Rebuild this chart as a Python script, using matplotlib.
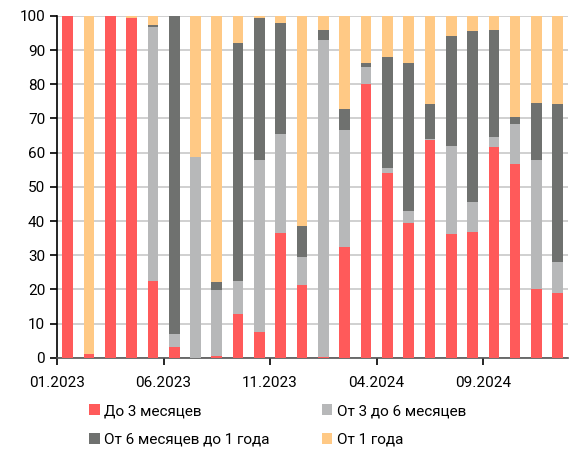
import matplotlib
matplotlib.use("Agg")
import matplotlib.pyplot as plt
import numpy as np

plt.rcParams['font.family'] = ['Liberation Sans Narrow', 'Roboto', 'DejaVu Sans']

# months 01.2023 .. 12.2024
months = ['01.2023', '02.2023', '03.2023', '04.2023', '05.2023', '06.2023',
          '07.2023', '08.2023', '09.2023', '10.2023', '11.2023', '12.2023',
          '01.2024', '02.2024', '03.2024', '04.2024', '05.2024', '06.2024',
          '07.2024', '08.2024', '09.2024', '10.2024', '11.2024', '12.2024']

upto3 = [100, 1, 100, 99.5, 22.6, 3.2, 0, 0.6, 12.7, 7.7, 36.4, 21.3,
         0.3, 32.4, 80.1, 54.0, 39.4, 63.6, 36.1, 36.7, 61.8, 56.6, 20.1, 19.0]
m3to6 = [0, 0, 0, 0, 74.2, 3.7, 58.6, 19.1, 9.7, 50.3, 29.1, 8.2,
         92.5, 34.2, 4.9, 1.6, 3.4, 0.4, 25.9, 8.9, 2.8, 11.7, 37.8, 8.9]
m6to12 = [0, 0, 0, 0, 0.5, 93.1, 0, 2.5, 69.7, 41.5, 32.5, 9.2,
          3.1, 6.3, 1.3, 32.4, 43.5, 10.2, 32.0, 49.9, 31.2, 2.1, 16.7, 46.2]
over1y = [0, 99, 0, 0.5, 2.7, 0, 41.4, 77.8, 7.9, 0.5, 2.0, 61.3,
          4.1, 27.1, 13.7, 12.0, 13.7, 25.8, 6.0, 4.5, 4.2, 29.6, 25.4, 25.9]

labels = ['До 3 месяцев', 'От 3 до 6 месяцев', 'От 6 месяцев до 1 года', 'От 1 года']
colors = ['#FF5A5A', '#B7B8B9', '#6F716F', '#FFC985']

fig = plt.figure(figsize=(5.74, 4.53), dpi=100)
ax = fig.add_axes([0.0993, 0.21, 0.891, 0.755])

x = np.arange(len(months))
bottom = np.zeros(len(months))
bars = []
for vals, c, lab in zip([upto3, m3to6, m6to12, over1y], colors, labels):
    b = ax.bar(x, vals, 0.5, bottom=bottom, color=c, label=lab, zorder=3)
    bars.append(b)
    bottom += np.array(vals)

ax.set_xlim(-0.5, len(months) - 0.5)
ax.set_ylim(0, 100)
ax.set_yticks(np.arange(0, 101, 10))
ax.yaxis.grid(True, color='#C8C8C8', linewidth=1.2, zorder=0)

tick_pos = np.arange(-0.5, len(months), 5)
ax.set_xticks(tick_pos)
ax.set_xticklabels([months[int(p + 0.5)] for p in tick_pos])

for s in ['top', 'right']:
    ax.spines[s].set_visible(False)
ax.spines['left'].set_color('black')
ax.spines['left'].set_linewidth(1.2)
ax.spines['bottom'].set_color('#555555')
ax.spines['bottom'].set_linewidth(1.2)
ax.tick_params(axis='both', labelsize=11, length=5, width=1.2, colors='black')
ax.tick_params(axis='x', pad=8)

handles = [bars[0], bars[2], bars[1], bars[3]]
fig.legend(handles, [labels[0], labels[2], labels[1], labels[3]],
           ncol=2, loc='upper left', bbox_to_anchor=(0.155, 0.108),
           frameon=False, fontsize=11, handlelength=0.7, handleheight=0.7,
           handletextpad=0.3, columnspacing=3.4, labelspacing=0.95,
           borderaxespad=0, borderpad=0)

fig.savefig('out.png', dpi=100)
